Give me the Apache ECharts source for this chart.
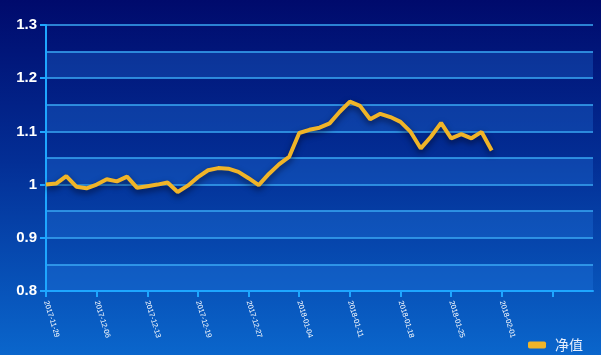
<!DOCTYPE html>
<html>
<head>
<meta charset="utf-8">
<script src="https://cdn.jsdelivr.net/npm/echarts@6/dist/echarts.min.js"></script>
<style>
html,body{margin:0;padding:0;}
#c{width:601px;height:355px;}
</style>
</head>
<body>
<div id="c"></div>
<script>
var categories = [
  '2017-11-29','2017-11-30','2017-12-01','2017-12-04','2017-12-05',
  '2017-12-06','2017-12-07','2017-12-08','2017-12-11','2017-12-12',
  '2017-12-13','2017-12-14','2017-12-15','2017-12-16','2017-12-18',
  '2017-12-19','2017-12-20','2017-12-21','2017-12-22','2017-12-26',
  '2017-12-27','2017-12-28','2017-12-29','2018-01-02','2018-01-03',
  '2018-01-04','2018-01-05','2018-01-08','2018-01-09','2018-01-10',
  '2018-01-11','2018-01-12','2018-01-15','2018-01-16','2018-01-17',
  '2018-01-18','2018-01-19','2018-01-22','2018-01-23','2018-01-24',
  '2018-01-25','2018-01-26','2018-01-29','2018-01-30','2018-01-31',
  '2018-02-01','','','','','','','','',''
];
var netValues = [
  1.000, 1.002, 1.016, 0.996, 0.993, 1.000, 1.010, 1.006, 1.015, 0.994,
  0.997, 1.000, 1.004, 0.986, 0.998, 1.014, 1.027, 1.031, 1.030, 1.024,
  1.012, 0.999, 1.020, 1.038, 1.052, 1.097, 1.103, 1.107, 1.115, 1.137,
  1.156, 1.148, 1.123, 1.133, 1.127, 1.118, 1.099, 1.068, 1.090, 1.116,
  1.087, 1.095, 1.087, 1.099, 1.064
];
var seriesName = '净值';

var chart = echarts.init(document.getElementById('c'));
chart.setOption({
  animation: false,
  backgroundColor: {
    type: 'linear', x: 0, y: 0, x2: 0, y2: 1,
    colorStops: [
      {offset: 0, color: '#000a6c'},
      {offset: 0.45, color: '#032e95'},
      {offset: 1, color: '#0a66cc'}
    ]
  },
  grid: {left: 46, right: 8, top: 25, bottom: 64},
  legend: {
    data: [seriesName],
    right: 13, top: 333,
    icon: 'roundRect',
    itemWidth: 18, itemHeight: 7,
    textStyle: {color: '#e6eefc', fontSize: 14, fontFamily: 'Noto Sans CJK SC', padding: [0, 0, 0, 4]}
  },
  xAxis: {
    type: 'category',
    data: categories,
    boundaryGap: false,
    axisLine: {lineStyle: {color: '#1ea6ff', width: 2}},
    axisTick: {show: true, interval: 4, length: 6, lineStyle: {color: '#1ea6ff', width: 2}},
    axisLabel: {interval: 4, rotate: -73, color: '#ffffff', fontSize: 7.5, margin: 10, fontFamily: 'Liberation Sans'},
    splitLine: {show: false}
  },
  yAxis: [
    {
      type: 'value', min: 0.8, max: 1.3, interval: 0.1,
      axisLine: {show: true, lineStyle: {color: '#1ea6ff', width: 2}},
      axisTick: {show: true, length: 6, lineStyle: {color: '#1ea6ff', width: 2}},
      axisLabel: {color: '#ffffff', fontSize: 15, fontWeight: 'bold', margin: 9, fontFamily: 'Liberation Sans'},
      splitLine: {show: false}
    },
    {
      type: 'value', min: 0.8, max: 1.3, interval: 0.05, position: 'left',
      axisLine: {show: false}, axisTick: {show: false}, axisLabel: {show: false},
      splitLine: {show: true, lineStyle: {color: '#3aa8f4', width: 1.5}},
      splitArea: {show: true, areaStyle: {color: ['rgba(40,130,235,0.28)', 'rgba(0,0,0,0)']}}
    }
  ],
  series: [{
    name: seriesName,
    type: 'line',
    yAxisIndex: 0,
    data: netValues,
    showSymbol: false,
    symbol: 'none',
    itemStyle: {color: '#f0b428'},
    lineStyle: {color: '#f0b428', width: 4, shadowColor: 'rgba(0,0,20,0.6)', shadowBlur: 6, shadowOffsetY: 3}
  }]
});
</script>
</body>
</html>
